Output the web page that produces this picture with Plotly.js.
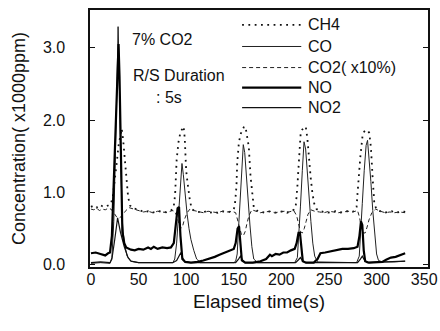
<!DOCTYPE html>
<html>
<head>
<meta charset="utf-8">
<script src="https://cdn.plot.ly/plotly-3.0.1.min.js"></script>
<style>html,body{margin:0;padding:0;background:#fff;}#chart{width:440px;height:331px;}</style>
</head>
<body>
<div id="chart"></div>
<script>
// ---- data ----
const ch4T = [0,3,6,9,12,15,18,21,23,25,27,29,31,32.3,34,35.8,37.6,39,41,44,48,52,56,60,64,68,72,76,80,84,86,87.5,88.5,90,92,94,96,97.3,98.5,100,101.3,102.6,104,106,109,113,117,121,125,129,133,137,141,145,149,151,152.8,153.6,155.3,157,159,160.5,162.3,164,165.8,167.6,169.4,171,174,178,182,186,190,194,198,202,206,210,213,215,216,216.8,218.5,220.3,222,224,225.6,227.3,229,230.8,232.6,234.4,237,241,245,249,253,257,261,265,269,273,276,278,279,280,281,283,285.3,287,289,290.6,292.3,294,296,297.6,300,304,308,312,316,320,324,328,330];
const ch4V = [0.80,0.82,0.79,0.83,0.81,0.80,0.82,0.84,0.95,1.15,1.4,1.65,1.82,1.88,1.7,1.45,1.22,0.94,0.82,0.78,0.77,0.75,0.73,0.74,0.72,0.73,0.74,0.72,0.73,0.75,0.77,0.85,1.0,1.45,1.7,1.83,1.88,1.91,1.75,1.3,1.15,0.99,0.88,0.77,0.74,0.73,0.72,0.74,0.72,0.73,0.72,0.74,0.73,0.73,0.75,0.8,1.08,1.4,1.68,1.8,1.86,1.9,1.91,1.78,1.63,1.22,0.99,0.8,0.75,0.73,0.72,0.74,0.73,0.72,0.73,0.74,0.72,0.74,0.76,0.8,0.95,1.08,1.45,1.82,1.87,1.9,1.91,1.75,1.45,1.2,0.99,0.85,0.77,0.74,0.73,0.72,0.73,0.74,0.72,0.73,0.74,0.73,0.74,0.76,0.8,0.99,1.22,1.5,1.79,1.84,1.86,1.86,1.82,1.63,1.17,0.85,0.76,0.74,0.72,0.73,0.74,0.72,0.73,0.74,0.73,0.73];

const coT = [0,10,20,22,24,26,27.5,28.5,29.5,31,32,33,35,38,42,50,70,86,88,90,92,94,95.6,97,99,101,103,105,108,111,115,130,150,152,153.6,155,157,158.5,160,161.5,163,165,167,169,171,175,195,214,216.8,218.5,220,222,223.8,225.5,227,229,231,233,235,238,260,279,281.8,283.5,285,287,289,290.5,292,294,296,298,300,302,306,318,330];
const coV = [0.02,0.03,0.02,0.1,0.6,1.6,2.6,3.29,2.8,1.6,1.0,0.6,0.3,0.12,0.05,0.03,0.03,0.03,0.08,0.3,0.7,1.15,1.40,1.25,0.95,0.7,0.5,0.35,0.2,0.08,0.03,0.03,0.03,0.05,0.15,0.5,1.0,1.4,1.66,1.55,1.25,0.9,0.55,0.25,0.08,0.03,0.03,0.03,0.1,0.4,0.8,1.3,1.70,1.6,1.3,0.95,0.6,0.3,0.12,0.04,0.03,0.03,0.12,0.45,0.85,1.3,1.65,1.72,1.5,1.15,0.75,0.4,0.15,0.06,0.04,0.04,0.05];

const co2T = [0,3,6,9,12,15,18,21,24,27,30,33,36,40,45,50,55,60,65,70,75,80,85,88,90,92,94,96,98,101,104,108,113,118,123,128,133,138,143,148,152,154,156,158,160,162,164,166,169,173,178,183,188,193,198,203,208,213,216,218,220,222,224,226,228,231,235,240,245,250,255,260,265,270,275,280,282,284,286,288,290,292,295,299,304,309,314,319,324,330];
const co2V = [0.77,0.76,0.78,0.75,0.77,0.76,0.78,0.77,0.72,0.66,0.65,0.68,0.74,0.79,0.77,0.75,0.73,0.74,0.72,0.74,0.73,0.72,0.75,0.74,0.68,0.58,0.5,0.52,0.62,0.72,0.77,0.75,0.73,0.72,0.74,0.73,0.72,0.74,0.73,0.74,0.72,0.62,0.5,0.42,0.4,0.46,0.58,0.68,0.76,0.74,0.72,0.73,0.74,0.72,0.73,0.74,0.73,0.75,0.68,0.56,0.46,0.44,0.5,0.6,0.7,0.76,0.74,0.73,0.72,0.74,0.73,0.72,0.73,0.74,0.73,0.75,0.66,0.52,0.44,0.44,0.52,0.62,0.72,0.77,0.74,0.72,0.73,0.72,0.73,0.72];

const noT = [0,5,10,15,18,20,22,24,25.5,27,29,30,31,32,33,34,35,37,42,46,50,55,60,63,66,70,75,80,84,87,89,91,92.5,94,96,99,105,112,118,124,130,135,140,145,150,152,154,155.5,157,158.5,162,170,178,184,188,190,194,198,202,206,210,214,216,218,219.5,221,222.5,226,234,238,241,246,252,258,264,270,276,280,282,283.6,285,286.5,288,292,300,306,310,315,320,325,330];
const noV = [0.16,0.17,0.15,0.13,0.16,0.17,0.4,1.2,1.75,2.4,3.05,2.6,1.7,0.8,0.45,0.38,0.3,0.24,0.21,0.2,0.22,0.21,0.24,0.22,0.25,0.22,0.24,0.23,0.24,0.3,0.55,0.78,0.8,0.4,0.08,0.04,0.03,0.04,0.06,0.08,0.11,0.14,0.17,0.2,0.22,0.3,0.5,0.53,0.3,0.06,0.03,0.03,0.05,0.08,0.14,0.12,0.15,0.14,0.17,0.17,0.2,0.22,0.3,0.44,0.44,0.2,0.05,0.03,0.03,0.08,0.16,0.17,0.19,0.21,0.22,0.22,0.23,0.25,0.4,0.6,0.55,0.2,0.05,0.03,0.03,0.04,0.07,0.1,0.11,0.13,0.16];

const no2T = [0,10,20,22,25,28,31,35,39,42,50,70,86,90,93,94.5,96,99,105,130,152,155,157,159,162,190,215,218,220,222,225,255,280,283,285,287,290,310,330];
const no2V = [0.03,0.04,0.03,0.08,0.35,0.65,0.45,0.25,0.1,0.05,0.03,0.03,0.03,0.06,0.15,0.17,0.1,0.04,0.03,0.03,0.03,0.08,0.12,0.07,0.03,0.03,0.03,0.07,0.1,0.06,0.03,0.03,0.03,0.08,0.12,0.07,0.03,0.04,0.05];

const legendNames = ["CH4","CO","CO2( x10%)","NO","NO2"];
const yTicks = [0,1,2,3];
const xTicks = [0,50,100,150,200,250,300,350];

// ---- styles ----
const FONT = "Liberation Sans, Arial, Helvetica, sans-serif";
const styles = [
  {color:"#111", width:1.8, dash:"1.8px,4.5px"},
  {color:"#222", width:1, dash:"solid"},
  {color:"#222", width:1, dash:"4px,3px"},
  {color:"#000", width:2.2, dash:"solid"},
  {color:"#111", width:1.2, dash:"solid"}
];
const series = [[ch4T,ch4V],[coT,coV],[co2T,co2V],[noT,noV],[no2T,no2V]];
const order = [0,2,1,4,3];
const traces = order.map(i => ({
  x: series[i][0], y: series[i][1], type:"scatter", mode:"lines",
  name: legendNames[i], line: styles[i], showlegend:false, hoverinfo:"skip"
}));

// legend (drawn manually, plot-paper coordinates)
const legY = [0.942,0.858,0.776,0.698,0.62];
const shapes = legendNames.map((n,i) => ({
  type:"line", xref:"paper", yref:"paper", x0:0.45, x1:0.625, y0:legY[i], y1:legY[i],
  line:{color:styles[i].color, width:styles[i].width, dash:styles[i].dash}
}));
const annotations = legendNames.map((n,i) => ({
  xref:"paper", yref:"paper", x:0.638, y:legY[i], xanchor:"left", yanchor:"middle",
  text:n, showarrow:false, font:{family:FONT, size:16, color:"#111"}
}));
annotations.push(
  {xref:"paper", yref:"paper", x:0.118, y:0.885, xanchor:"left", yanchor:"middle", text:"7% CO2", showarrow:false, font:{family:FONT,size:16,color:"#111"}},
  {xref:"paper", yref:"paper", x:0.122, y:0.746, xanchor:"left", yanchor:"middle", text:"R/S Duration", showarrow:false, font:{family:FONT,size:16,color:"#111"}},
  {xref:"paper", yref:"paper", x:0.19, y:0.66, xanchor:"left", yanchor:"middle", text:": 5s", showarrow:false, font:{family:FONT,size:16,color:"#111"}}
);

const layout = {
  width:440, height:331,
  margin:{l:90, r:12, t:10, b:64, pad:0},
  paper_bgcolor:"#fff", plot_bgcolor:"#fff",
  font:{family:FONT, size:16, color:"#111"},
  xaxis:{
    range:[-1,354], tickvals:xTicks, ticktext:xTicks.map(String),
    showgrid:false, zeroline:false, showline:true, linecolor:"#111", linewidth:1.6, mirror:true,
    ticks:"", ticklabelstandoff:-3, tickfont:{family:FONT,size:16,color:"#111"},
    title:{text:"Elapsed time(s)", font:{family:FONT,size:19,color:"#111"}, standoff:8}
  },
  yaxis:{
    range:[-0.03,3.52], tickvals:yTicks, ticktext:yTicks.map(v=>v.toFixed(1)),
    showgrid:false, zeroline:false, showline:true, linecolor:"#111", linewidth:1.6, mirror:"ticks",
    ticks:"inside", ticklen:5, tickcolor:"#111", tickwidth:1,
    ticklabelstandoff:20,
    tickfont:{family:FONT,size:16,color:"#111"},
    title:{text:"Concentration( x1000ppm)", font:{family:FONT,size:18,color:"#111"}, standoff:12}
  },
  shapes:shapes, annotations:annotations
};

Plotly.newPlot("chart", traces, layout, {staticPlot:true, displayModeBar:false});
</script>
</body>
</html>
